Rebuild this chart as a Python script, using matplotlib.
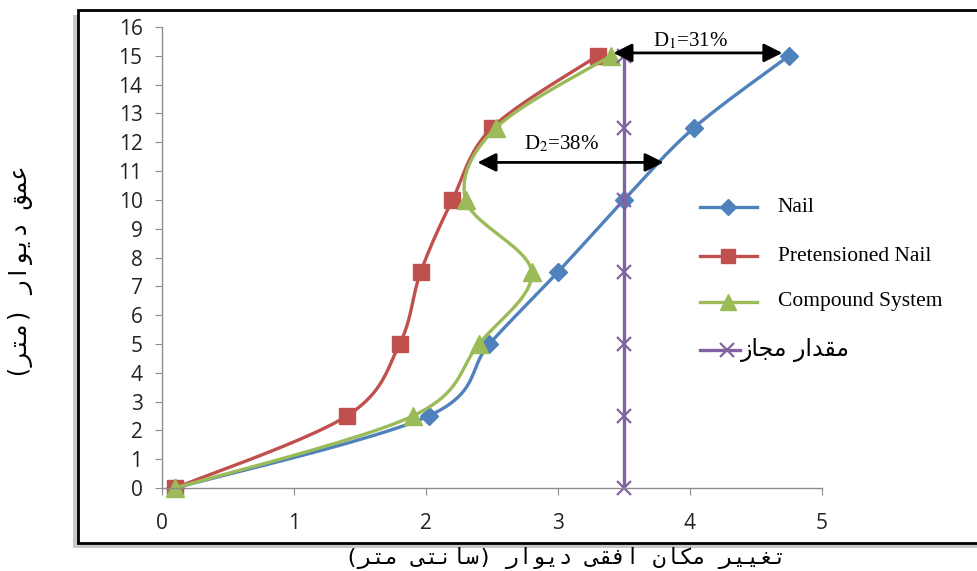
import numpy as np
import matplotlib
matplotlib.use("Agg")
import matplotlib.pyplot as plt
from matplotlib.patches import Rectangle
from matplotlib.lines import Line2D

plt.rcParams['mathtext.fontset'] = 'stix'

# data
depth = [0, 2.5, 5, 7.5, 10, 12.5, 15]
nail = [0.1, 2.02, 2.48, 3.0, 3.5, 4.03, 4.75]
pretensioned = [0.1, 1.4, 1.8, 1.96, 2.2, 2.5, 3.3]
compound = [0.1, 1.9, 2.4, 2.8, 2.3, 2.53, 3.4]
allowable = [3.5, 3.5, 3.5, 3.5, 3.5, 3.5, 3.5]

x_ticks = [0, 1, 2, 3, 4, 5]
y_ticks = list(range(0, 17))

xlabel_fa = "تغییر مکان افقی دیوار (سانتی متر)"
ylabel_fa = "عمق دیوار (متر)"
legend_fa = "مقدار مجاز"

# --- minimal Persian shaping (matplotlib has no RTL/joining support) ---
FORMS = {  # isolated, final, initial, medial
    'ا': ('\uFE8D', '\uFE8E', None, None),
    'ت': ('\uFE95', '\uFE96', '\uFE97', '\uFE98'),
    'ج': ('\uFE9D', '\uFE9E', '\uFE9F', '\uFEA0'),
    'د': ('\uFEA9', '\uFEAA', None, None),
    'ر': ('\uFEAD', '\uFEAE', None, None),
    'ز': ('\uFEAF', '\uFEB0', None, None),
    'س': ('\uFEB1', '\uFEB2', '\uFEB3', '\uFEB4'),
    'ع': ('\uFEC9', '\uFECA', '\uFECB', '\uFECC'),
    'غ': ('\uFECD', '\uFECE', '\uFECF', '\uFED0'),
    'ف': ('\uFED1', '\uFED2', '\uFED3', '\uFED4'),
    'ق': ('\uFED5', '\uFED6', '\uFED7', '\uFED8'),
    'م': ('\uFEE1', '\uFEE2', '\uFEE3', '\uFEE4'),
    'ن': ('\uFEE5', '\uFEE6', '\uFEE7', '\uFEE8'),
    'و': ('\uFEED', '\uFEEE', None, None),
    'ک': ('\uFB8E', '\uFB8F', '\uFB90', '\uFB91'),
    'ی': ('\uFBFC', '\uFBFD', '\uFBFE', '\uFBFF'),
}


def shape_fa(s):
    out = []
    for i, ch in enumerate(s):
        if ch not in FORMS:
            out.append(ch)
            continue
        prev = s[i - 1] if i > 0 else ''
        nxt = s[i + 1] if i + 1 < len(s) else ''
        jp = prev in FORMS and FORMS[prev][2] is not None
        jn = FORMS[ch][2] is not None and nxt in FORMS
        iso, fin, ini, med = FORMS[ch]
        if jp and jn:
            out.append(med)
        elif jp:
            out.append(fin)
        elif jn:
            out.append(ini)
        else:
            out.append(iso)
    vis = ''.join(reversed(out))
    return vis.translate(str.maketrans('()', ')('))


def smooth(x, y, n=25, sx=132.0, sy=28.8):
    # Excel-like smoothed line (cubic bezier, 1/6 tangents) in screen-ish units
    pts = np.column_stack([np.asarray(x) * sx, np.asarray(y) * sy])
    P = np.vstack([pts[0], pts, pts[-1]])
    t = np.linspace(0, 1, n)[:, None]
    segs = []
    for i in range(len(pts) - 1):
        p0, p1, p2, p3 = P[i], P[i + 1], P[i + 2], P[i + 3]
        c1 = p1 + (p2 - p0) / 6
        c2 = p2 - (p3 - p1) / 6
        seg = (1 - t) ** 3 * p1 + 3 * (1 - t) ** 2 * t * c1 + 3 * (1 - t) * t ** 2 * c2 + t ** 3 * p2
        segs.append(seg if i == 0 else seg[1:])
    seg = np.vstack(segs)
    return seg[:, 0] / sx, seg[:, 1] / sy


fig = plt.figure(figsize=(9.78, 5.71), dpi=100)

# outer chart frame with shadow
fig.patches.append(Rectangle((73 / 978, 1 - 548 / 571), 1.0, 533 / 571, transform=fig.transFigure,
                             facecolor='#c8c8c8', edgecolor='none', zorder=-3))
fig.patches.append(Rectangle((78 / 978, 1 - 543 / 571), 1.0, 533 / 571, transform=fig.transFigure,
                             facecolor='white', edgecolor='black', lw=2, zorder=-2))

ax = fig.add_axes([162 / 978, 1 - 488 / 571, 660 / 978, 461 / 571])
ax.set_facecolor('none')

series = [
    (nail, '#4F81BD', 'D', 9.5, 'Nail'),
    (pretensioned, '#C0504D', 's', 11.5, 'Pretensioned Nail'),
    (compound, '#9BBB59', '^', 12.5, 'Compound System'),
    (allowable, '#8064A2', 'x', 10, shape_fa(legend_fa)),
]

for xs, col, mk, ms, lab in series:
    sxv, syv = smooth(xs, depth)
    ax.plot(sxv, syv, color=col, lw=2.4, clip_on=False, solid_capstyle='round')
    if mk == 'x':
        ax.plot(xs, depth, ls='none', marker=mk, ms=ms, mew=1.6, color=col, clip_on=False)
    else:
        ax.plot(xs, depth, ls='none', marker=mk, ms=ms, mfc=col, mec=col, clip_on=False)

ax.set_xlim(0, 5)
ax.set_ylim(0, 16)
ax.set_xticks(x_ticks)
ax.set_yticks(y_ticks)
for sp in ['top', 'right']:
    ax.spines[sp].set_visible(False)
for sp in ['left', 'bottom']:
    ax.spines[sp].set_color('#8c8c8c')
    ax.spines[sp].set_linewidth(1)
ax.tick_params(direction='out', length=5, color='#8c8c8c', labelsize=15)
ax.tick_params(axis='y', pad=9)
ax.tick_params(axis='x', pad=13)
for lbl in ax.get_xticklabels() + ax.get_yticklabels():
    lbl.set_fontfamily('Open Sans')
    lbl.set_color('#222222')

# D1 / D2 arrows
arrow = dict(arrowstyle='<|-|>', color='black', lw=2, mutation_scale=28, shrinkA=0, shrinkB=0)
ax.annotate('', xy=(3.42, 15.1), xytext=(4.70, 15.1), arrowprops=arrow)
ax.annotate('', xy=(2.39, 11.3), xytext=(3.80, 11.3), arrowprops=arrow)
ax.text(4.0, 15.5, r'D$_1$=31%', fontsize=15, family='Liberation Serif', ha='center', va='center')
ax.text(3.03, 11.95, r'D$_2$=38%', fontsize=15, family='Liberation Serif', ha='center', va='center')

# manual legend
rows = [0.6095, 0.503, 0.4035, 0.299]
for (xs, col, mk, ms, lab), yy in zip(series, rows):
    if mk == 'x':
        x0, x1, xm, xt = 0.815, 0.876, 0.856, 0.877
        ax.add_line(Line2D([x0, x1], [yy, yy], transform=ax.transAxes, color=col, lw=2.4, clip_on=False))
        ax.add_line(Line2D([xm], [yy], transform=ax.transAxes, ls='none', marker=mk, ms=ms, mew=1.6,
                           color=col, clip_on=False))
        ax.text(xt, yy, lab, transform=ax.transAxes, fontsize=17, family='DejaVu Sans',
                ha='left', va='center')
    else:
        x0, x1, xm, xt = 0.815, 0.902, 0.858, 0.933
        ax.add_line(Line2D([x0, x1], [yy, yy], transform=ax.transAxes, color=col, lw=2.4, clip_on=False))
        ax.add_line(Line2D([xm], [yy], transform=ax.transAxes, ls='none', marker=mk, ms=ms * 0.9,
                           mfc=col, mec=col, clip_on=False))
        ax.text(xt, yy, lab, transform=ax.transAxes, fontsize=15.5, family='Liberation Serif',
                ha='left', va='center')

fig.text(0.578, 1 - 558 / 571, shape_fa(xlabel_fa), fontsize=16,
         family=['DejaVu Sans Mono', 'DejaVu Sans'], ha='center', va='center')
fig.text(0.021, 1 - 272 / 571, shape_fa(ylabel_fa), fontsize=17, rotation=90,
         family=['DejaVu Sans Mono', 'DejaVu Sans'], ha='center', va='center')

fig.savefig('out.png', dpi=100)
